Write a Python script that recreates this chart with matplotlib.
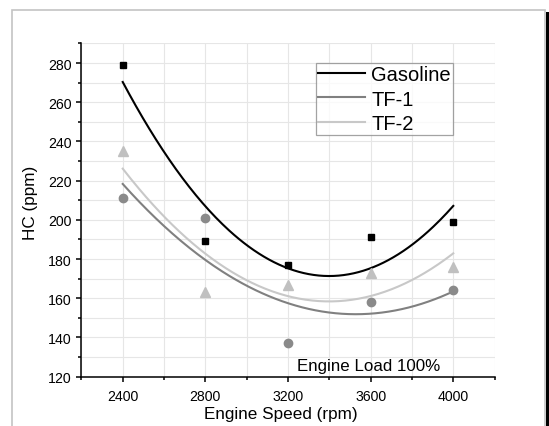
import numpy as np
import matplotlib
matplotlib.use("Agg")
import matplotlib.pyplot as plt
from matplotlib.patches import Rectangle

plt.rcParams['font.family'] = ['Liberation Sans', 'DejaVu Sans']

speed = [2400, 2800, 3200, 3600, 4000]
gasoline = [279, 189, 177, 191, 199]
tf1 = [211, 201, 137, 158, 164]
tf2 = [235, 163, 167, 173, 176]

fig = plt.figure(figsize=(5.49, 4.27), dpi=100)

# outer frame like the exported graph page
fig.patches.append(Rectangle((12 / 549, -0.05), 533 / 549, 1.05 - 11 / 427,
                             transform=fig.transFigure, fill=False,
                             edgecolor='#c4c4c4', linewidth=1.2))
fig.patches.append(Rectangle((546 / 549, 0), 3 / 549, 1 - 13 / 427,
                             transform=fig.transFigure, facecolor='black',
                             edgecolor='none'))

ax = fig.add_axes([81.4 / 549, 1 - 377.7 / 427, 413.2 / 549, 333.3 / 427])

xs = np.linspace(2400, 4000, 200)
series = [
    ("Gasoline", gasoline, "black", "black", "s", 5),
    ("TF-1", tf1, "#808080", "#8a8a8a", "o", 6),
    ("TF-2", tf2, "#c8c8c8", "#c0c0c0", "^", 6.5),
]
for name, vals, lc, mc, mk, ms in series:
    coef = np.polyfit(speed, vals, 2)
    ax.plot(xs, np.polyval(coef, xs), color=lc, lw=1.5, label=name, zorder=3)
    ax.plot(speed, vals, linestyle='none', marker=mk, color=mc, ms=ms, zorder=4)

ax.set_xlim(2200, 4200)
ax.set_ylim(120, 290)
ax.set_xticks([2400, 2800, 3200, 3600, 4000])
ax.set_xticks([2200, 2600, 3000, 3400, 3800, 4200], minor=True)
ax.set_yticks(range(120, 281, 20))
ax.set_yticks(range(130, 291, 20), minor=True)
ax.grid(True, which='both', color='#e6e6e6', lw=0.8, zorder=0)
ax.set_axisbelow(True)

for s in ['top', 'right']:
    ax.spines[s].set_visible(False)
for s in ['left', 'bottom']:
    ax.spines[s].set_linewidth(1.1)
ax.tick_params(which='major', direction='out', length=3.4, width=1.1,
               labelsize=10.2)
ax.tick_params(axis='x', which='major', pad=5.5)
ax.tick_params(axis='y', which='major', pad=3.5)
ax.tick_params(which='minor', direction='out', length=2.2, width=1.1)

ax.set_xlabel("Engine Speed (rpm)", fontsize=12.3)
ax.set_ylabel("HC (ppm)", fontsize=12.3)
ax.xaxis.set_label_coords(0.483, -0.087)
ax.yaxis.set_label_coords(-0.104, 0.525)

leg = ax.legend(loc='upper left', bbox_to_anchor=(0.568, 0.941),
                borderaxespad=0, fontsize=14.5, frameon=True, fancybox=False,
                handlelength=2.35, handletextpad=0.3, labelspacing=0.27,
                borderpad=0.1)
leg.get_frame().set_edgecolor('#8c8c8c')
leg.get_frame().set_linewidth(0.9)

ax.text(0.694, 0.021, "Engine Load 100%", transform=ax.transAxes,
        fontsize=12.2, ha='center', va='baseline')

fig.savefig("out.png", dpi=100)
